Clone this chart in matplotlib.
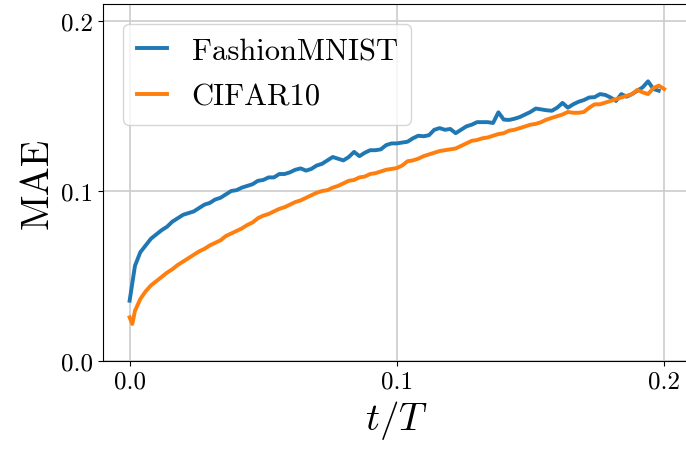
import numpy as np
import matplotlib
matplotlib.use('Agg')
import matplotlib.pyplot as plt

plt.rcParams['font.family'] = 'cmr10'
plt.rcParams['mathtext.fontset'] = 'cm'
plt.rcParams['axes.unicode_minus'] = False

# FashionMNIST, t/T from 0 to 0.198 in steps of 0.002
fashion_t = np.arange(100) * 0.002
fashion_mae = [
    0.0355, 0.056, 0.064, 0.068, 0.072, 0.0745, 0.077, 0.079, 0.082, 0.084,
    0.086, 0.087, 0.088, 0.090, 0.092, 0.093, 0.095, 0.096, 0.098, 0.100,
    0.1005, 0.102, 0.103, 0.104, 0.106, 0.1065, 0.108, 0.108, 0.110, 0.110,
    0.111, 0.1125, 0.1133, 0.112, 0.113, 0.115, 0.116, 0.118, 0.120, 0.119,
    0.118, 0.120, 0.123, 0.1205, 0.1225, 0.124, 0.124, 0.1245, 0.127, 0.128,
    0.128, 0.1285, 0.129, 0.131, 0.1325, 0.1322, 0.1328, 0.136, 0.137, 0.136,
    0.1365, 0.134, 0.136, 0.138, 0.139, 0.1405, 0.1405, 0.1405, 0.140, 0.1463,
    0.142, 0.1418, 0.1425, 0.1435, 0.145, 0.1465, 0.1485, 0.148, 0.1475, 0.1472,
    0.149, 0.1518, 0.149, 0.151, 0.1525, 0.1535, 0.155, 0.1552, 0.157, 0.1565,
    0.155, 0.153, 0.157, 0.1555, 0.157, 0.159, 0.161, 0.1645, 0.160, 0.159,
]

# CIFAR10, t/T = 0, 0.001, then 0.002 to 0.2 in steps of 0.002
cifar_t = np.concatenate([[0.0, 0.001], np.arange(1, 101) * 0.002])
cifar_mae = [
    0.0257, 0.0218, 0.0295, 0.0365, 0.041, 0.0445, 0.047, 0.0495, 0.052, 0.054,
    0.0565, 0.0585, 0.0605, 0.0625, 0.0645, 0.066, 0.068, 0.0695, 0.071, 0.0735,
    0.075, 0.0765, 0.078, 0.080, 0.0815, 0.084, 0.0855, 0.0865, 0.088, 0.0895,
    0.0905, 0.092, 0.0935, 0.0945, 0.096, 0.0975, 0.099, 0.100, 0.1005, 0.102,
    0.103, 0.1045, 0.106, 0.1065, 0.108, 0.1085, 0.110, 0.1105, 0.1115, 0.1125,
    0.113, 0.1135, 0.115, 0.1175, 0.118, 0.119, 0.1205, 0.1215, 0.1225, 0.1235,
    0.124, 0.1245, 0.125, 0.1265, 0.128, 0.1295, 0.130, 0.131, 0.1315, 0.1325,
    0.1335, 0.134, 0.1355, 0.136, 0.137, 0.138, 0.139, 0.1395, 0.1405, 0.142,
    0.143, 0.144, 0.145, 0.1465, 0.146, 0.146, 0.1465, 0.149, 0.151, 0.151,
    0.152, 0.153, 0.154, 0.155, 0.156, 0.157, 0.1595, 0.158, 0.157, 0.1605,
    0.162, 0.160,
]

xticks = [0.0, 0.1, 0.2]
yticks = [0.0, 0.1, 0.2]
tick_labels = ['0.0', '0.1', '0.2']

fig = plt.figure(figsize=(6.86, 4.52), dpi=100)
ax = fig.add_axes([0.150, 0.199, 0.857, 0.790])

ax.plot(fashion_t, fashion_mae, color='#1f77b4', lw=2.8, label='FashionMNIST')
ax.plot(cifar_t, cifar_mae, color='#ff7f0e', lw=2.8, label='CIFAR10')

ax.set_xlim(-0.01, 0.21)
ax.set_ylim(0, 0.21)
ax.set_xticks(xticks, labels=tick_labels)
ax.set_yticks(yticks, labels=tick_labels)
ax.tick_params(labelsize=18)
ax.grid(True, color='#cccccc', lw=1.2)
ax.set_axisbelow(True)

ax.set_xlabel(r'$t/T$', fontsize=28)
ax.set_ylabel('MAE', fontsize=28)

ax.legend(loc='upper left', fontsize=22, handlelength=1.0,
          labelspacing=0.6, borderpad=0.45, borderaxespad=0.65)

fig.savefig('out.png', dpi=100)
